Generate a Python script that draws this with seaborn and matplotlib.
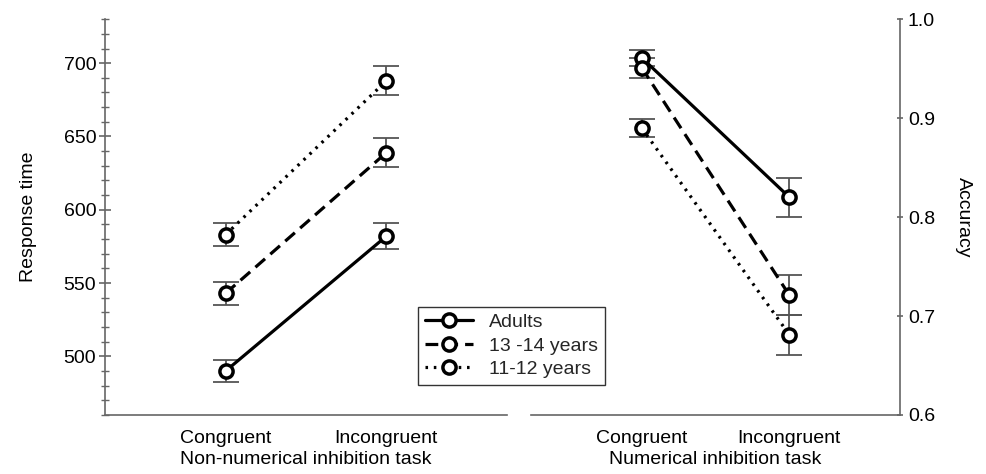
import pandas as pd
import matplotlib.pyplot as plt
import seaborn as sns

# Data
conditions = ["Congruent", "Incongruent"]
groups = ["Adults", "13 -14 years", "11-12 years"]

rt_adults = [490, 582]
rt_13_14 = [543, 639]
rt_11_12 = [583, 688]
rt_err_adults = [7.5, 9]
rt_err_13_14 = [8, 10]
rt_err_11_12 = [8, 10]

acc_adults = [0.961, 0.820]
acc_13_14 = [0.951, 0.721]
acc_11_12 = [0.890, 0.681]
acc_err_adults = [0.008, 0.02]
acc_err_13_14 = [0.01, 0.02]
acc_err_11_12 = [0.0095, 0.02]

positions = [0.5, 1.5]

rows = []
for g, rt, rte, ac, ace in [
    (groups[0], rt_adults, rt_err_adults, acc_adults, acc_err_adults),
    (groups[1], rt_13_14, rt_err_13_14, acc_13_14, acc_err_13_14),
    (groups[2], rt_11_12, rt_err_11_12, acc_11_12, acc_err_11_12),
]:
    for i, c in enumerate(conditions):
        rows.append({"group": g, "condition": c, "pos": positions[i],
                     "rt": rt[i], "rt_err": rte[i], "acc": ac[i], "acc_err": ace[i]})
df = pd.DataFrame(rows)

sns.set_theme(style="white")
plt.rcParams["font.family"] = ["Liberation Sans", "DejaVu Sans"]
FS = 14

fig = plt.figure(figsize=(9.87, 4.74), dpi=100)
ax1 = fig.add_axes([0.1064, 0.1245, 0.4073, 0.835])
ax2 = fig.add_axes([0.538, 0.1245, 0.374, 0.835])

dashes = {groups[0]: "", groups[1]: (4, 2.2), groups[2]: (0.8, 1.8)}
markers = {g: "o" for g in groups}
spine_col = "#666666"


def draw(ax, ycol, ecol):
    sns.lineplot(data=df, x="pos", y=ycol, style="group", style_order=groups,
                 dashes=dashes, markers=markers, color="black", lw=2.3,
                 markersize=9.5, markerfacecolor="white", markeredgecolor="black",
                 markeredgewidth=2.5, legend=False, ax=ax, zorder=3)
    for g in groups:
        sub = df[df["group"] == g]
        ax.errorbar(sub["pos"], sub[ycol], yerr=sub[ecol], fmt="none",
                    ecolor="#555555", elinewidth=1.3, capsize=9.5, capthick=1.3,
                    zorder=2)
    ax.set_xlim(-0.25, 2.25)
    ax.set_xticks([0, 1, 2])
    ax.set_xticklabels([])
    ax.set_xticks(positions, conditions, minor=True)
    ax.tick_params(axis="x", which="major", direction="inout", length=8.5,
                   width=1, color=spine_col)
    ax.tick_params(axis="x", which="minor", length=0, pad=11, labelsize=FS)
    for s in ax.spines.values():
        s.set_color(spine_col)
        s.set_linewidth(1.2)
    ax.set_facecolor("white")


draw(ax1, "rt", "rt_err")
handles = list(ax1.lines[:3])
draw(ax2, "acc", "acc_err")

# left panel: response time
ax1.set_ylim(460, 730)
ax1.set_yticks([500, 550, 600, 650, 700])
ax1.set_yticks(range(460, 731, 10), minor=True)
ax1.tick_params(axis="y", which="major", direction="inout", length=8.5,
                width=1.2, color=spine_col, left=True, pad=2, labelsize=FS)
ax1.tick_params(axis="y", which="minor", direction="inout", length=5.5,
                width=1, color=spine_col, left=True)
ax1.spines["top"].set_visible(False)
ax1.spines["right"].set_visible(False)
ax1.set_ylabel("Response time", fontsize=FS, labelpad=19)
ax1.set_xlabel("Non-numerical inhibition task", fontsize=FS, labelpad=3)

# right panel: accuracy
ax2.set_ylim(0.6, 1.0)
ax2.set_yticks([0.6, 0.7, 0.8, 0.9, 1.0])
ax2.set_yticklabels(["0.6", "0.7", "0.8", "0.9", "1.0"])
ax2.yaxis.tick_right()
ax2.yaxis.set_label_position("right")
ax2.tick_params(axis="y", which="major", direction="inout", length=5,
                width=1.2, color=spine_col, right=True, left=False, pad=3,
                labelsize=FS)
ax2.spines["top"].set_visible(False)
ax2.spines["left"].set_visible(False)
ax2.set_ylabel("Accuracy", fontsize=FS, rotation=270, labelpad=27)
ax2.set_xlabel("Numerical inhibition task", fontsize=FS, labelpad=3)

for ax in (ax1, ax2):
    ax.xaxis.label.set_color("black")
    ax.yaxis.label.set_color("black")
    ax.tick_params(labelcolor="black", which="both")

leg = fig.legend(handles, groups, loc="lower left",
                 bbox_to_anchor=(0.4235, 0.188), frameon=True, fancybox=False,
                 fontsize=FS, handlelength=2.5, labelspacing=0.3,
                 borderpad=0.35, handletextpad=0.8, borderaxespad=0)
leg.get_frame().set_edgecolor("black")
leg.get_frame().set_linewidth(1.0)

fig.savefig("out.png", dpi=100, facecolor="white")
